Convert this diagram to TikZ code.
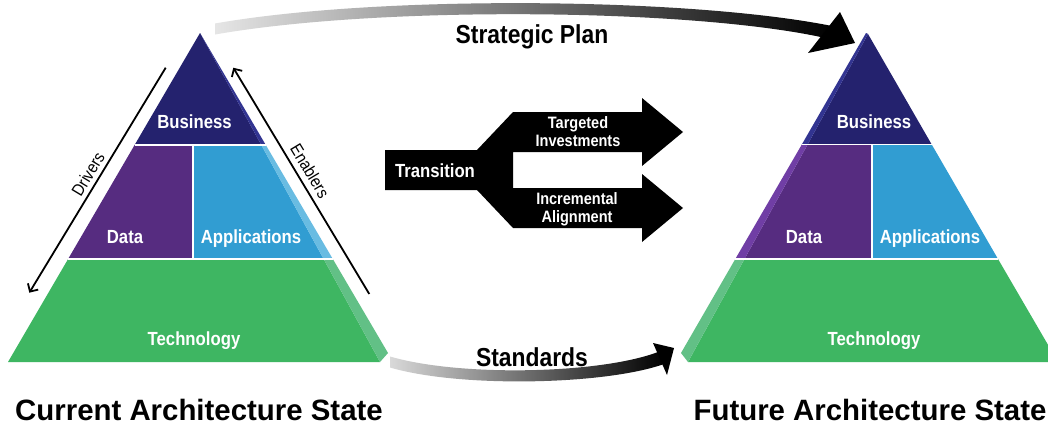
\documentclass[tikz,border=0pt]{standalone}
\usepackage{fontspec}
\setmainfont{Liberation Sans}
\newfontfamily\condfont{Liberation Sans}[FakeStretch=0.88]
\usetikzlibrary{arrows.meta}
\definecolor{biz}{RGB}{36,34,110}
\definecolor{bizS}{RGB}{50,52,145}
\definecolor{dat}{RGB}{86,44,128}
\definecolor{datS}{RGB}{112,62,165}
\definecolor{app}{RGB}{49,157,210}
\definecolor{appS}{RGB}{105,188,226}
\definecolor{tec}{RGB}{62,182,98}
\definecolor{tecS}{RGB}{98,192,134}
\begin{document}
\begin{tikzpicture}[x=1pt,y=-1pt,
  lbl/.style={font=\condfont\bfseries\fontsize{19}{20}\selectfont, text=white, inner sep=0, anchor=base},
  small/.style={font=\condfont\bfseries\fontsize{16.5}{18}\selectfont, text=white, inner sep=0, anchor=base},
  big/.style={font=\condfont\bfseries\fontsize{26}{28}\selectfont, text=black, inner sep=0, anchor=base},
  title/.style={font=\bfseries\fontsize{29.4}{30}\selectfont, text=black, inner sep=0, anchor=base},
  side/.style={font=\condfont\fontsize{17}{18}\selectfont, text=black, inner sep=0},
  sepline/.style={draw=white, line width=1.2pt},
  guide/.style={line width=1.8pt, -{Straight Barb[length=6pt,width=12pt]}}
]
\useasboundingbox (0,0) rectangle (1048,424);
\fill[white] (0,0) rectangle (1048,424);
\begin{scope}
\clip (0,0) rectangle (1048,424);

% ---- Strategic Plan arrow
\shade[left color=black!10, right color=black]
  (215,23.5) .. controls (380,-5.5) and (690,-2.5) .. (832,26)
  -- (823,37.5) .. controls (690,8.5) and (380,5.5) .. (215,34.5) -- cycle;
\fill[black] (840,12) -- (855,43) -- (808,53) -- cycle;
\node[big] (strat) at (532,43) {Strategic Plan};

% ---- Standards arrow
\shade[left color=black!15, middle color=black!85, right color=black]
  (390,356.5) .. controls (460,377) and (600,374) .. (658,352)
  -- (664,364) .. controls (605,385) and (460,388) .. (390,367.5) -- cycle;
\fill[black] (653,343) -- (674,348) -- (667,375) -- cycle;
\node[big] (stds) at (532,366) {Standards};

% ---- Left pyramid
\fill[biz]  (200,33) -- (261.3,145) -- (134.6,145) -- cycle;
\fill[bizS] (200,33) -- (265.8,145) -- (261.3,145) -- cycle;
\fill[dat]  (134.6,145) -- (193,145) -- (193,259) -- (68.1,259) -- cycle;
\fill[app]  (193,145) -- (261.3,145) -- (323.6,259) -- (193,259) -- cycle;
\fill[appS] (261.3,145) -- (265.8,145) -- (332.8,259) -- (323.6,259) -- cycle;
\fill[tec]  (68.1,259) -- (323.6,259) -- (380,362) -- (8,362) -- cycle;
\fill[tecS] (323.6,259) -- (332.8,259) -- (388,353) -- (380,362) -- cycle;
\draw[sepline] (134.6,145) -- (265.8,145);
\draw[sepline] (68.1,259) -- (332.8,259);
\draw[sepline] (193,145) -- (193,259);
\node[lbl] (lBiz)  at (194.5,128.5) {Business};
\node[lbl] (lData) at (125,243.3) {Data};
\node[lbl] (lApps) at (251,243.3) {Applications};
\node[lbl] (lTech) at (194,345) {Technology};

% Drivers / Enablers
\coordinate (drvTop) at (165.7,67.7);
\coordinate (drvBot) at (29.3,292.7);
\coordinate (enbBot) at (369.3,294);
\coordinate (enbTop) at (233.3,67.7);
\draw[guide] (drvTop) -- (drvBot);
\draw[guide] (enbBot) -- (enbTop);
\node[side, rotate=58.9]  (drv) at (88,174) {Drivers};
\node[side, rotate=-58.9] (enb) at (310,171) {Enablers};

% ---- Right pyramid
\fill[biz]  (868,34) -- (931.7,144.5) -- (807.6,144.5) -- cycle;
\fill[bizS] (866,33) -- (868,34) -- (807.6,144.5) -- (801.8,144.5) -- cycle;
\fill[dat]  (807.6,144.5) -- (872,144.5) -- (872,259) -- (744.5,259) -- cycle;
\fill[datS] (801.8,144.5) -- (807.6,144.5) -- (744.5,259) -- (735.3,259) -- cycle;
\fill[app]  (872,144.5) -- (931.7,144.5) -- (998,259) -- (872,259) -- cycle;
\fill[tec]  (744.5,259) -- (998,259) -- (1058,362) -- (688,362) -- cycle;
\fill[tecS] (735.3,259) -- (744.5,259) -- (688,362) -- (681,353) -- cycle;
\draw[sepline] (801.8,144.5) -- (931.7,144.5);
\draw[sepline] (735.3,259) -- (998,259);
\draw[sepline] (872,144.5) -- (872,259);
\node[lbl] (rBiz)  at (874,128.5) {Business};
\node[lbl] (rData) at (804,243) {Data};
\node[lbl] (rApps) at (930,243) {Applications};
\node[lbl] (rTech) at (874,345) {Technology};

% ---- Transition shape
\fill[black] (385,150) -- (477,150) -- (513,112) -- (642,112) -- (642,98) -- (683,132)
  -- (642,166) -- (642,152) -- (513,152) -- (513,188) -- (642,188) -- (642,174)
  -- (683,208) -- (642,242) -- (642,228) -- (513,228) -- (477,190) -- (385,190) -- cycle;
\node[lbl]   (trans) at (435,177) {Transition};
\node[small] (tgt1)  at (578,128.3) {Targeted};
\node[small] (tgt2)  at (578,146.7) {Investments};
\node[small] (inc1)  at (577,204) {Incremental};
\node[small] (inc2)  at (577,222.7) {Alignment};

% ---- Titles
\node[title] (curT) at (199,420.5) {Current Architecture State};
\node[title] (futT) at (870,420.5) {Future Architecture State};
\end{scope}
\end{tikzpicture}
\end{document}
